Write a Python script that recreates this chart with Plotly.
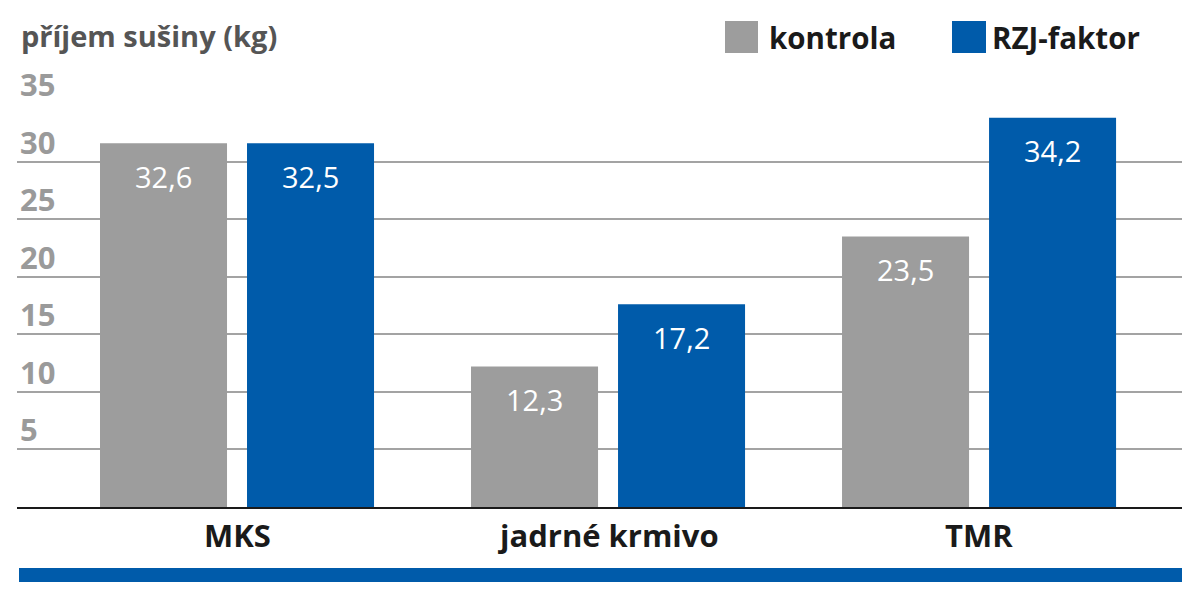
import plotly.graph_objects as go

categories = ["MKS", "jadrné krmivo", "TMR"]
series_names = ["kontrola", "RZJ-faktor"]
# bar heights as drawn in the picture
kontrola_values = [31.6, 12.2, 23.5]
rzj_values = [31.6, 17.6, 33.8]
# value labels printed on the bars
kontrola_labels = ["32,6", "12,3", "23,5"]
rzj_labels = ["32,5", "17,2", "34,2"]
y_ticks = [5, 10, 15, 20, 25, 30, 35]
y_title = "příjem sušiny (kg)"

GRAY = "#9d9d9d"
BLUE = "#005baa"
FONT = "Open Sans"

W, H = 1200, 598
OFF = 8  # page body margin
# plot area in screenshot pixels: x 17..1182, y 104..507
L = 17 - OFF
R = W - (1182 - OFF)
T = 104 - OFF
B = H - (507 - OFF)
PH = H - T - B
PW = W - L - R


def py(p):
    """screenshot pixel y -> paper y"""
    return ((507) - p) / PH


def px(p):
    """screenshot pixel x -> paper x"""
    return (p - 17) / PW


fig = go.Figure()
fig.add_trace(go.Bar(x=categories, y=kontrola_values, name=series_names[0],
                     marker=dict(color=GRAY, line=dict(width=0)), showlegend=False,
                     hoverinfo="skip"))
fig.add_trace(go.Bar(x=categories, y=rzj_values, name=series_names[1],
                     marker=dict(color=BLUE, line=dict(width=0)), showlegend=False,
                     hoverinfo="skip"))

annotations = []
# value labels
for i, c in enumerate(categories):
    annotations.append(dict(x=c, y=kontrola_values[i], xref="x", yref="y", text=kontrola_labels[i],
                            showarrow=False, xshift=-73.5, yshift=-33, yanchor="middle",
                            font=dict(family=FONT, size=29, color="white")))
    annotations.append(dict(x=c, y=rzj_values[i], xref="x", yref="y", text=rzj_labels[i],
                            showarrow=False, xshift=73.5, yshift=-33, yanchor="middle",
                            font=dict(family=FONT, size=29, color="white")))
# y tick labels above gridlines
for t in y_ticks:
    annotations.append(dict(x=0, y=t, xref="paper", yref="y", text=str(t), showarrow=False,
                            xanchor="left", yanchor="middle", xshift=1, yshift=20,
                            font=dict(family=FONT, size=31, color="#9a9a9a", weight="bold")))
# title
annotations.append(dict(x=px(19), y=py(36), xref="paper", yref="paper", text=y_title,
                        showarrow=False, xanchor="left", yanchor="middle",
                        font=dict(family=FONT, size=29, color="#555555", weight="bold")))
# category labels
for c in categories:
    annotations.append(dict(x=c, y=py(535), xref="x", yref="paper", text=c, showarrow=False,
                            xanchor="center", yanchor="middle",
                            font=dict(family=FONT, size=31, color="#1a1a1a", weight="bold")))
# legend text
annotations.append(dict(x=px(767), y=py(37), xref="paper", yref="paper", text=series_names[0],
                        showarrow=False, xanchor="left", yanchor="middle",
                        font=dict(family=FONT, size=29.5, color="#1a1a1a", weight="bold")))
annotations.append(dict(x=px(990), y=py(37), xref="paper", yref="paper", text=series_names[1],
                        showarrow=False, xanchor="left", yanchor="middle",
                        font=dict(family=FONT, size=29.5, color="#1a1a1a", weight="bold")))

shapes = [
    # legend squares
    dict(type="rect", xref="paper", yref="paper", x0=px(725), x1=px(758), y0=py(53), y1=py(21),
         fillcolor=GRAY, line=dict(width=0)),
    dict(type="rect", xref="paper", yref="paper", x0=px(952), x1=px(986), y0=py(53), y1=py(21),
         fillcolor=BLUE, line=dict(width=0)),
    # bottom blue band
    dict(type="rect", xref="paper", yref="paper", x0=px(19), x1=px(1182), y0=py(582), y1=py(568),
         fillcolor=BLUE, line=dict(width=0)),
]

fig.update_layout(
    width=W, height=H, autosize=False,
    margin=dict(l=L, r=R, t=T, b=B, pad=0),
    paper_bgcolor="white", plot_bgcolor="white",
    barmode="group", bargap=0.2075, bargroupgap=0.136,
    annotations=annotations, shapes=shapes,
    xaxis=dict(range=[-0.593, 2.547], showticklabels=False, showgrid=False, zeroline=False,
               showline=True, linecolor="#1a1a1a", linewidth=2, ticks="", fixedrange=True),
    yaxis=dict(range=[0, 35], tickvals=y_ticks, showticklabels=False, showgrid=True,
               gridcolor="#a3a3a3", gridwidth=2, zeroline=False, showline=False, fixedrange=True),
    showlegend=False,
)
fig.write_html("out.html")
